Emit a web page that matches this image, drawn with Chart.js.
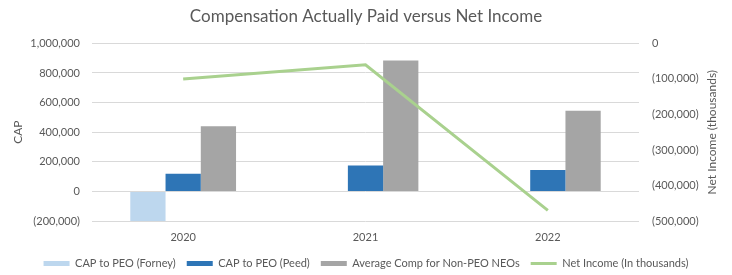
<!DOCTYPE html>
<html>
<head>
<meta charset="utf-8">
<script src="https://cdn.jsdelivr.net/npm/chart.js@4"></script>
<style>
    body { margin: 0; background: #fff; }
    #wrap { width: 732px; height: 275px; position: relative; }
</style>
</head>
<body>
<div id="wrap"><canvas id="capChart"></canvas></div>
<script>
// Dữ liệu
const years = ['2020', '2021', '2022'];
const capForney = [-200000, null, null];
const capPeed = [120000, 175000, 145000];
const avgNonPeo = [440000, 885000, 545000];
const netIncome = [-100000, -60000, -470000];

const textColor = '#595959';
const fontFamily = 'Lato, "Open Sans", sans-serif';

// (200,000) kiểu kế toán cho số âm
function fmtNum(v) {
    const s = Math.abs(v).toLocaleString('en-US');
    return v < 0 ? '(' + s + ')' : s;
}

// Tiêu đề trục phải, xoay -90 độ giống trục trái
const rightTitlePlugin = {
    id: 'rightTitle',
    afterDraw(chart) {
        const ctx = chart.ctx;
        const area = chart.chartArea;
        ctx.save();
        ctx.translate(712, (area.top + area.bottom) / 2);
        ctx.rotate(-Math.PI / 2);
        ctx.fillStyle = textColor;
        ctx.font = '12px ' + fontFamily;
        ctx.textAlign = 'center';
        ctx.textBaseline = 'middle';
        ctx.fillText('Net Income (thousands)', 0, 0);
        ctx.restore();
    }
};

document.addEventListener('DOMContentLoaded', function() {
    const ctx = document.getElementById('capChart').getContext('2d');

    new Chart(ctx, {
        type: 'bar',
        data: {
            labels: years,
            datasets: [
                {
                    label: 'CAP to PEO (Forney)',
                    data: capForney,
                    backgroundColor: '#bdd7ee',
                    yAxisID: 'y',
                    order: 1
                },
                {
                    label: 'CAP to PEO (Peed)',
                    data: capPeed,
                    backgroundColor: '#2e75b6',
                    yAxisID: 'y',
                    order: 1
                },
                {
                    label: 'Average Comp for Non-PEO NEOs',
                    data: avgNonPeo,
                    backgroundColor: '#a5a5a5',
                    yAxisID: 'y',
                    order: 1
                },
                {
                    type: 'line',
                    label: 'Net Income (In thousands)',
                    data: netIncome,
                    borderColor: '#a9d18e',
                    backgroundColor: '#a9d18e',
                    borderWidth: 3,
                    pointRadius: 0,
                    tension: 0,
                    yAxisID: 'y1',
                    order: 0
                }
            ]
        },
        options: {
            responsive: true,
            maintainAspectRatio: false,
            animation: false,
            datasets: {
                bar: { categoryPercentage: 0.58, barPercentage: 1.0 }
            },
            layout: { padding: { left: 0, right: 0, top: 0, bottom: -4 } },
            scales: {
                x: {
                    grid: { display: false, drawTicks: false },
                    border: { display: false },
                    ticks: { color: textColor, font: { family: fontFamily, size: 11 }, padding: 10 },
                    afterFit: function(scale) { scale.height = 26; }
                },
                y: {
                    position: 'left',
                    min: -200000,
                    max: 1000000,
                    ticks: {
                        stepSize: 200000,
                        color: textColor,
                        font: { family: fontFamily, size: 11 },
                        padding: 12,
                        callback: v => fmtNum(v)
                    },
                    grid: { color: '#d9d9d9', drawTicks: false },
                    border: { display: false },
                    title: {
                        display: true, text: 'CAP', color: textColor,
                        font: { family: fontFamily, size: 12 },
                        padding: { top: 11, bottom: 0 }
                    },
                    afterFit: function(scale) { scale.width = 92; }
                },
                y1: {
                    position: 'right',
                    min: -500000,
                    max: 0,
                    ticks: {
                        stepSize: 100000,
                        color: textColor,
                        font: { family: fontFamily, size: 11 },
                        padding: 13,
                        callback: v => fmtNum(v)
                    },
                    grid: { drawOnChartArea: false, drawTicks: false },
                    border: { display: false },
                    afterFit: function(scale) { scale.width = 93; }
                }
            },
            plugins: {
                title: {
                    display: true,
                    text: 'Compensation Actually Paid versus Net Income',
                    color: textColor,
                    font: { family: fontFamily, size: 17, weight: 'normal' },
                    padding: { top: 6, bottom: 17 }
                },
                legend: {
                    position: 'bottom',
                    labels: {
                        color: textColor,
                        font: { family: fontFamily, size: 11 },
                        usePointStyle: true,
                        pointStyleWidth: 26,
                        boxHeight: 5,
                        padding: 11,
                        sort: (a, b) => a.datasetIndex - b.datasetIndex,
                        generateLabels: function(chart) {
                            const items = Chart.defaults.plugins.legend.labels.generateLabels(chart);
                            items.forEach(it => {
                                const ds = chart.data.datasets[it.datasetIndex];
                                it.pointStyle = ds.type === 'line' ? 'line' : 'rect';
                                it.lineWidth = ds.type === 'line' ? 3 : 0;
                                it.strokeStyle = ds.type === 'line' ? ds.borderColor : ds.backgroundColor;
                            });
                            return items;
                        }
                    }
                },
                tooltip: { enabled: false }
            }
        },
        plugins: [rightTitlePlugin]
    });
});
</script>
</body>
</html>
